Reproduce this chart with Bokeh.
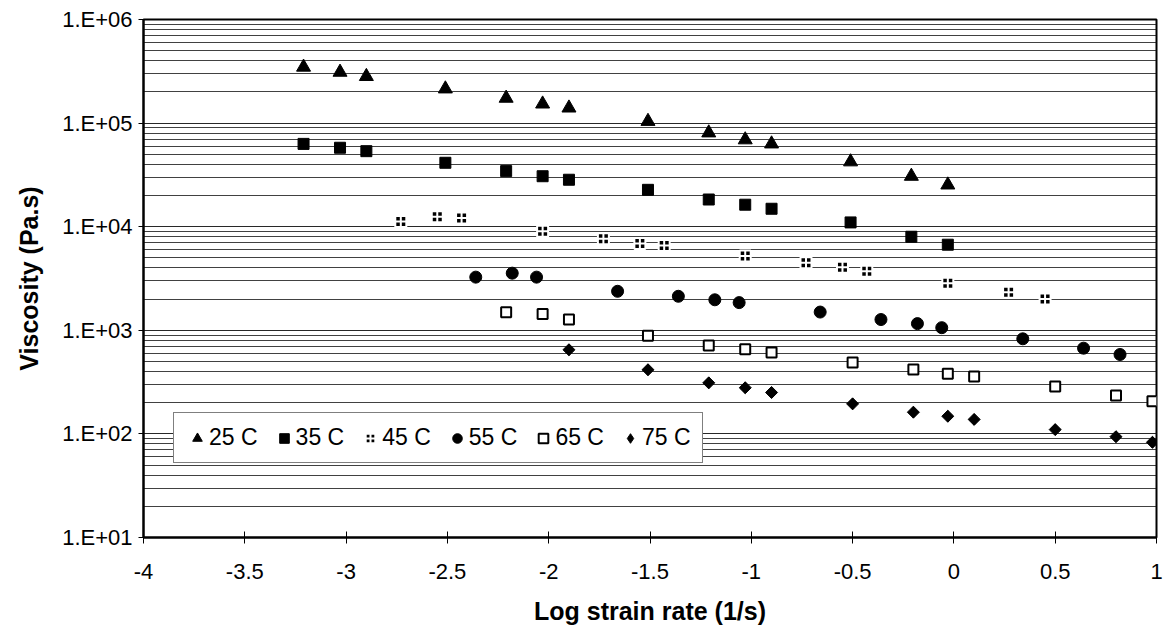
from bokeh.plotting import figure
from bokeh.models import Range1d, FixedTicker, Legend, LegendItem
from bokeh.embed import file_html
from bokeh.resources import INLINE
import numpy as np

# ---- data ----
x25 = [-3.21, -3.03, -2.90, -2.51, -2.21, -2.03, -1.90, -1.51, -1.21, -1.03, -0.90, -0.51, -0.21, -0.03]
y25 = [3.47e5, 3.10e5, 2.82e5, 2.14e5, 1.74e5, 1.53e5, 1.40e5, 1.04e5, 8.05e4, 6.9e4, 6.3e4, 4.23e4, 3.07e4, 2.53e4]

x35 = [-3.21, -3.03, -2.90, -2.51, -2.21, -2.03, -1.90, -1.51, -1.21, -1.03, -0.90, -0.51, -0.21, -0.03]
y35 = [6.3e4, 5.78e4, 5.36e4, 4.14e4, 3.44e4, 3.07e4, 2.84e4, 2.27e4, 1.83e4, 1.63e4, 1.49e4, 1.10e4, 8.0e3, 6.7e3]

x45 = [-2.73, -2.55, -2.43, -2.03, -1.73, -1.55, -1.43, -1.03, -0.73, -0.55, -0.43, -0.03, 0.27, 0.45]
y45 = [1.12e4, 1.25e4, 1.21e4, 9.05e3, 7.65e3, 6.9e3, 6.6e3, 5.2e3, 4.48e3, 4.06e3, 3.72e3, 2.85e3, 2.33e3, 2.01e3]

x55 = [-2.36, -2.18, -2.06, -1.66, -1.36, -1.18, -1.06, -0.66, -0.36, -0.18, -0.06, 0.34, 0.64, 0.82]
y55 = [3.26e3, 3.56e3, 3.26e3, 2.38e3, 2.13e3, 1.97e3, 1.85e3, 1.50e3, 1.27e3, 1.16e3, 1.06e3, 828, 672, 584]

x65 = [-2.21, -2.03, -1.90, -1.51, -1.21, -1.03, -0.90, -0.50, -0.20, -0.03, 0.10, 0.50, 0.80, 0.98]
y65 = [1490, 1440, 1270, 885, 713, 657, 611, 489, 419, 380, 358, 287, 235, 207]

x75 = [-1.90, -1.51, -1.21, -1.03, -0.90, -0.50, -0.20, -0.03, 0.10, 0.50, 0.80, 0.98]
y75 = [649, 416, 311, 279, 251, 195, 162, 148, 138, 110, 94, 83]

series_labels = ["25 C", "35 C", "45 C", "55 C", "65 C", "75 C"]

x_ticks = [-4, -3.5, -3, -2.5, -2, -1.5, -1, -0.5, 0, 0.5, 1]
x_tick_labels = ["-4", "-3.5", "-3", "-2.5", "-2", "-1.5", "-1", "-0.5", "0", "0.5", "1"]
y_ticks = [1e1, 1e2, 1e3, 1e4, 1e5, 1e6]
y_tick_labels = ["1.E+01", "1.E+02", "1.E+03", "1.E+04", "1.E+05", "1.E+06"]
y_minor = [k * d for d in [1e1, 1e2, 1e3, 1e4, 1e5] for k in range(2, 10)]

x_title = "Log strain rate (1/s)"
y_title = "Viscosity (Pa.s)"

FONT = "Liberation Sans"

p = figure(width=1163, height=635, y_axis_type="log",
           x_range=Range1d(-4, 1), y_range=Range1d(10, 1e6),
           output_backend="svg", toolbar_location=None,
           min_border_left=143, min_border_right=7,
           min_border_top=19, min_border_bottom=98)
p.background_fill_color = "white"
p.border_fill_color = "white"
p.outline_line_color = "black"
p.outline_line_width = 2

# grid
p.xgrid.grid_line_color = None
yt = FixedTicker(ticks=y_ticks, minor_ticks=y_minor)
p.yaxis.ticker = yt
p.ygrid.ticker = yt
p.ygrid.grid_line_color = "#111111"
p.ygrid.grid_line_width = 1
p.ygrid.grid_line_alpha = 0.9
p.ygrid.minor_grid_line_color = "#111111"
p.ygrid.minor_grid_line_alpha = 0.8
p.ygrid.minor_grid_line_width = 1

# axes
p.xaxis.ticker = FixedTicker(ticks=x_ticks)
p.xaxis.major_label_overrides = {t: l for t, l in zip(x_ticks, x_tick_labels)}
p.yaxis.major_label_overrides = {t: l for t, l in zip(y_ticks, y_tick_labels)}

for ax in (p.xaxis[0], p.yaxis[0]):
    ax.axis_line_color = "black"
    ax.axis_line_width = 2
    ax.major_tick_line_color = "black"
    ax.major_tick_line_width = 1
    ax.minor_tick_line_color = None
    ax.major_label_text_font = FONT
    ax.major_label_text_font_size = "22px"
    ax.major_label_text_color = "black"
    ax.axis_label_text_font = FONT
    ax.axis_label_text_font_style = "bold"
    ax.axis_label_text_font_size = "25px"
    ax.axis_label_text_color = "black"

p.xaxis.major_tick_in = 6
p.xaxis.major_tick_out = 6
p.xaxis.major_label_standoff = 20
p.xaxis.axis_label = x_title
p.xaxis.axis_label_standoff = 15

p.yaxis.major_tick_in = 0
p.yaxis.major_tick_out = 5
p.yaxis.major_label_standoff = 6
p.yaxis.axis_label = y_title
p.yaxis.axis_label_standoff = 16

# series
r25 = p.scatter(x25, y25, marker="triangle", size=14, fill_color="black", line_color="black")
r35 = p.scatter(x35, y35, marker="square", size=11, fill_color="black", line_color="black")
r45 = p.scatter(x45, y45, marker="square_cross", size=11, fill_color="black", line_color="white", line_width=2)
r55 = p.scatter(x55, y55, marker="circle", size=12, fill_color="black", line_color="black")
r65 = p.scatter(x65, y65, marker="square", size=10, fill_color="white", line_color="black", line_width=2)
# diamond key glyph (used by the legend; hidden beneath the rotated squares in the plot)
r75_key = p.scatter(x75, y75, marker="diamond", size=11, fill_color="black", line_color="black")
r75 = p.scatter(x75, y75, marker="square", angle=np.pi / 4, size=8.5, fill_color="black", line_color="black")

legend_renderers = [r25, r35, r45, r55, r65, r75_key]
legend = Legend(items=[LegendItem(label=l, renderers=[r]) for l, r in zip(series_labels, legend_renderers)],
                orientation="horizontal", location=(30, 74),
                label_text_font=FONT, label_text_font_size="23px", label_text_color="black",
                glyph_width=24, glyph_height=26, label_standoff=0, spacing=14,
                padding=11, margin=0,
                border_line_color="black", border_line_width=1,
                background_fill_color="white", background_fill_alpha=1.0)
p.add_layout(legend, "center")

open("out.html", "w").write(file_html(p, INLINE))
